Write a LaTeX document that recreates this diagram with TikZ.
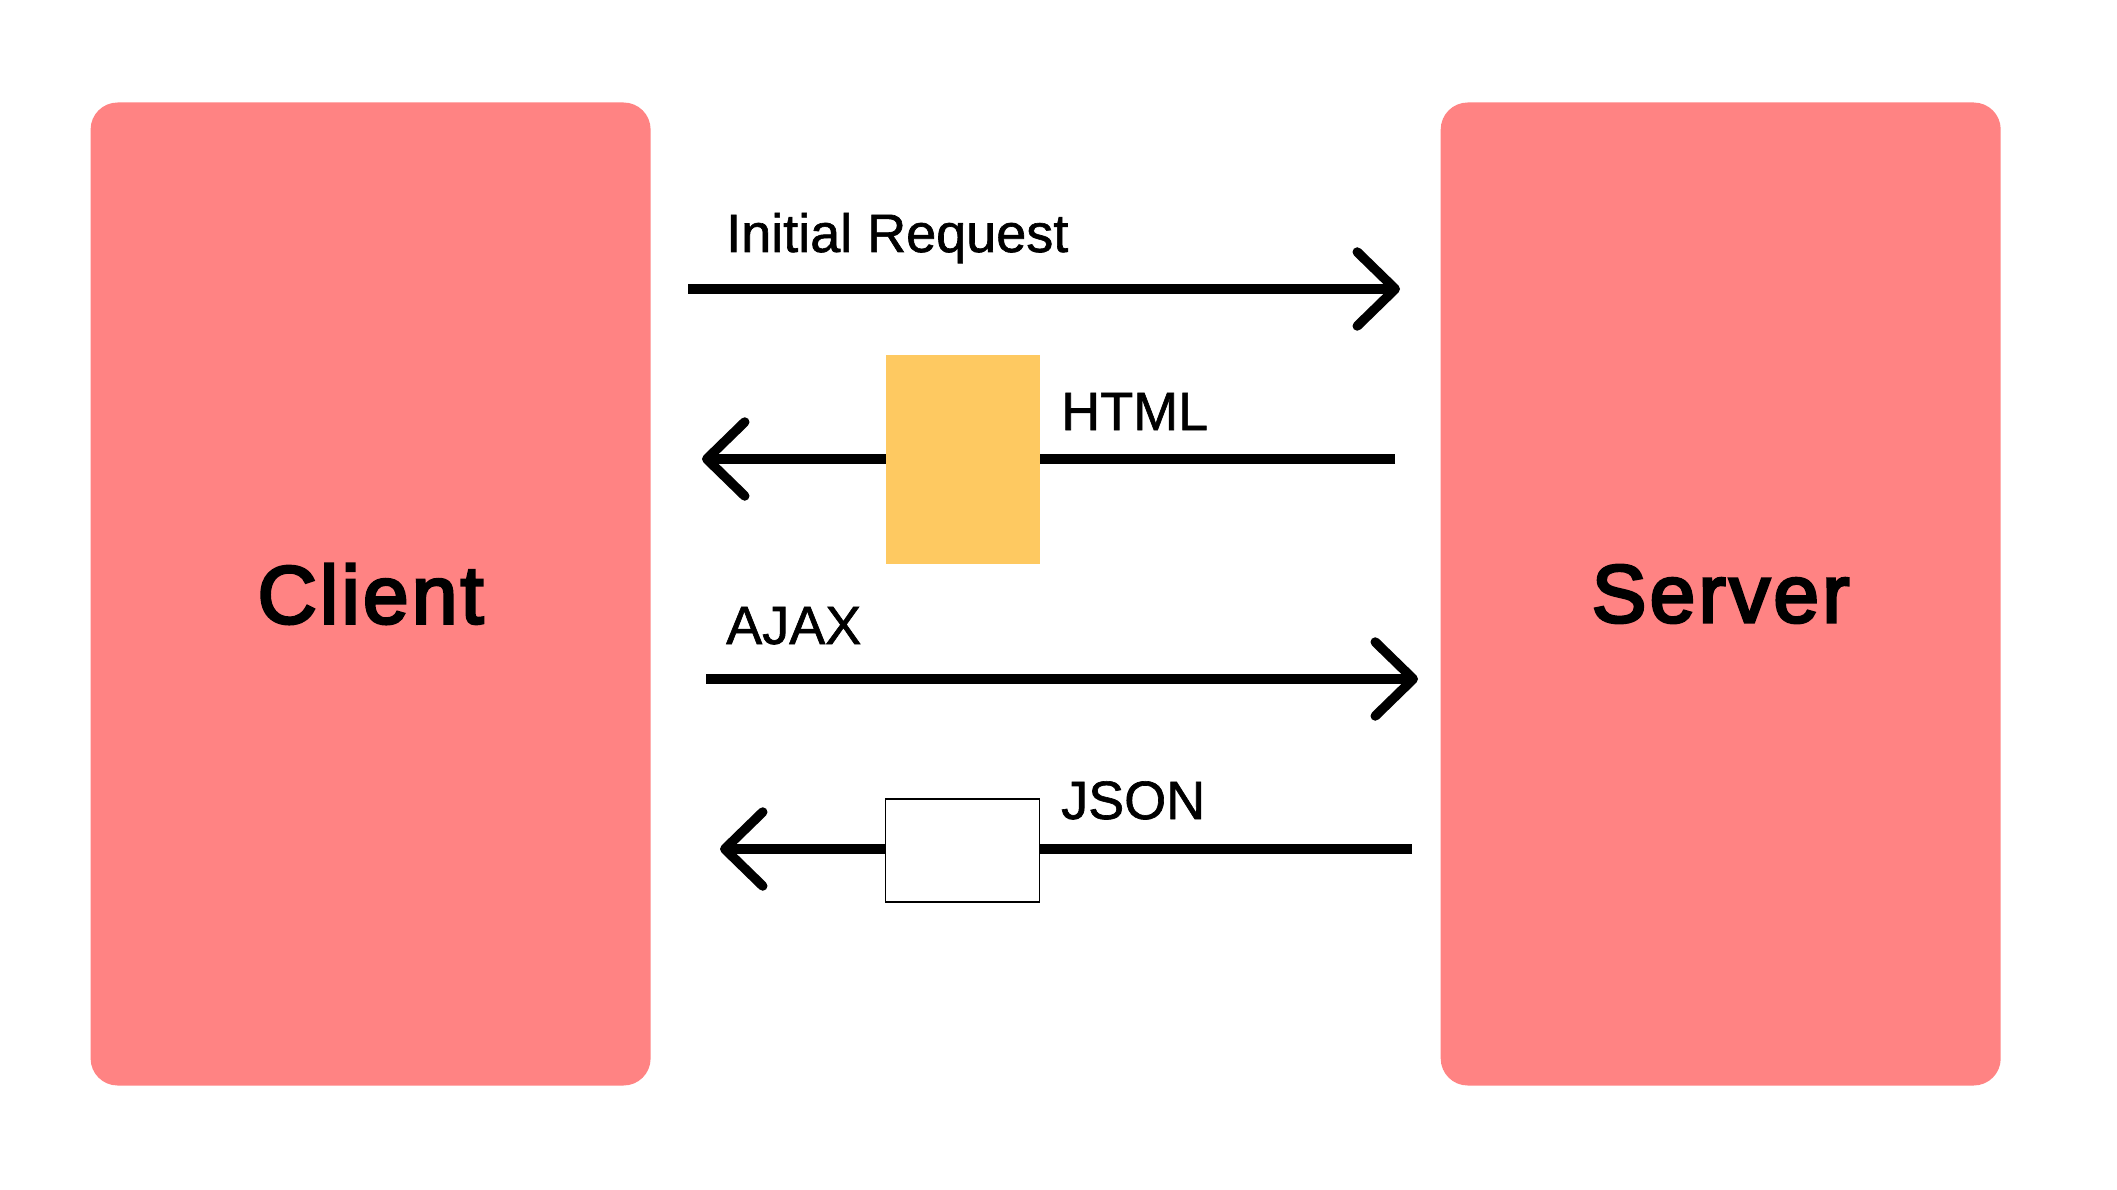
\documentclass[tikz,border=0pt]{standalone}
\usepackage{fontspec}
\setmainfont{Liberation Sans}
\newfontfamily\titlefont[FakeBold=3.5,LetterSpace=4]{Liberation Sans}
\newfontfamily\labelfont[FakeBold=1.2]{Liberation Sans}
\usetikzlibrary{arrows.meta}
\definecolor{boxred}{HTML}{FF8383}
\definecolor{boxyellow}{HTML}{FEC961}
\tikzset{
  party/.style={fill=boxred, draw=none, rounded corners=27pt, minimum width=560pt, minimum height=983pt, inner sep=0pt,
    font=\titlefont\fontsize{82}{90}\selectfont},
  msg/.style={line width=9.5pt, -{Straight Barb[length=38pt,width=74pt,round]}},
  lbl/.style={anchor=base west, inner sep=0pt, font=\labelfont\fontsize{54}{60}\selectfont},
  payload/.style={minimum width=154pt, inner sep=0pt}
}
\begin{document}
\begin{tikzpicture}[x=1pt,y=-1pt]
\path[fill=white, use as bounding box] (0,0) rectangle (2117,1190);
\node[party] (client) at (370.6,594) {Client};
\node[party] (server) at (1720.7,594) {Server};
% coordinates for free arrow ends
\coordinate (ir0) at (688,289);  \coordinate (ir1) at (1400,289);
\coordinate (h0) at (1395,459);  \coordinate (h1) at (702,459);
\coordinate (a0) at (706,679);   \coordinate (a1) at (1418,679);
\coordinate (j0) at (1412,849);  \coordinate (j1) at (720,849);
\draw[msg] (ir0) -- (ir1);
\draw[msg] (h0) -- (h1);
\draw[msg] (a0) -- (a1);
\draw[msg] (j0) -- (j1);
\node[payload, fill=boxyellow, minimum height=209pt] (html) at (962.5,459.5) {};
\node[payload, fill=white, draw=black, line width=1.2pt, minimum height=103pt] (json) at (962.5,850.5) {};
\node[lbl] (lir) at (726,252) {Initial Request};
\node[lbl] (lhtml) at (1061,430) {HTML};
\node[lbl] (lajax) at (726,644) {AJAX};
\node[lbl] (ljson) at (1061,819) {JSON};
\end{tikzpicture}
\end{document}
